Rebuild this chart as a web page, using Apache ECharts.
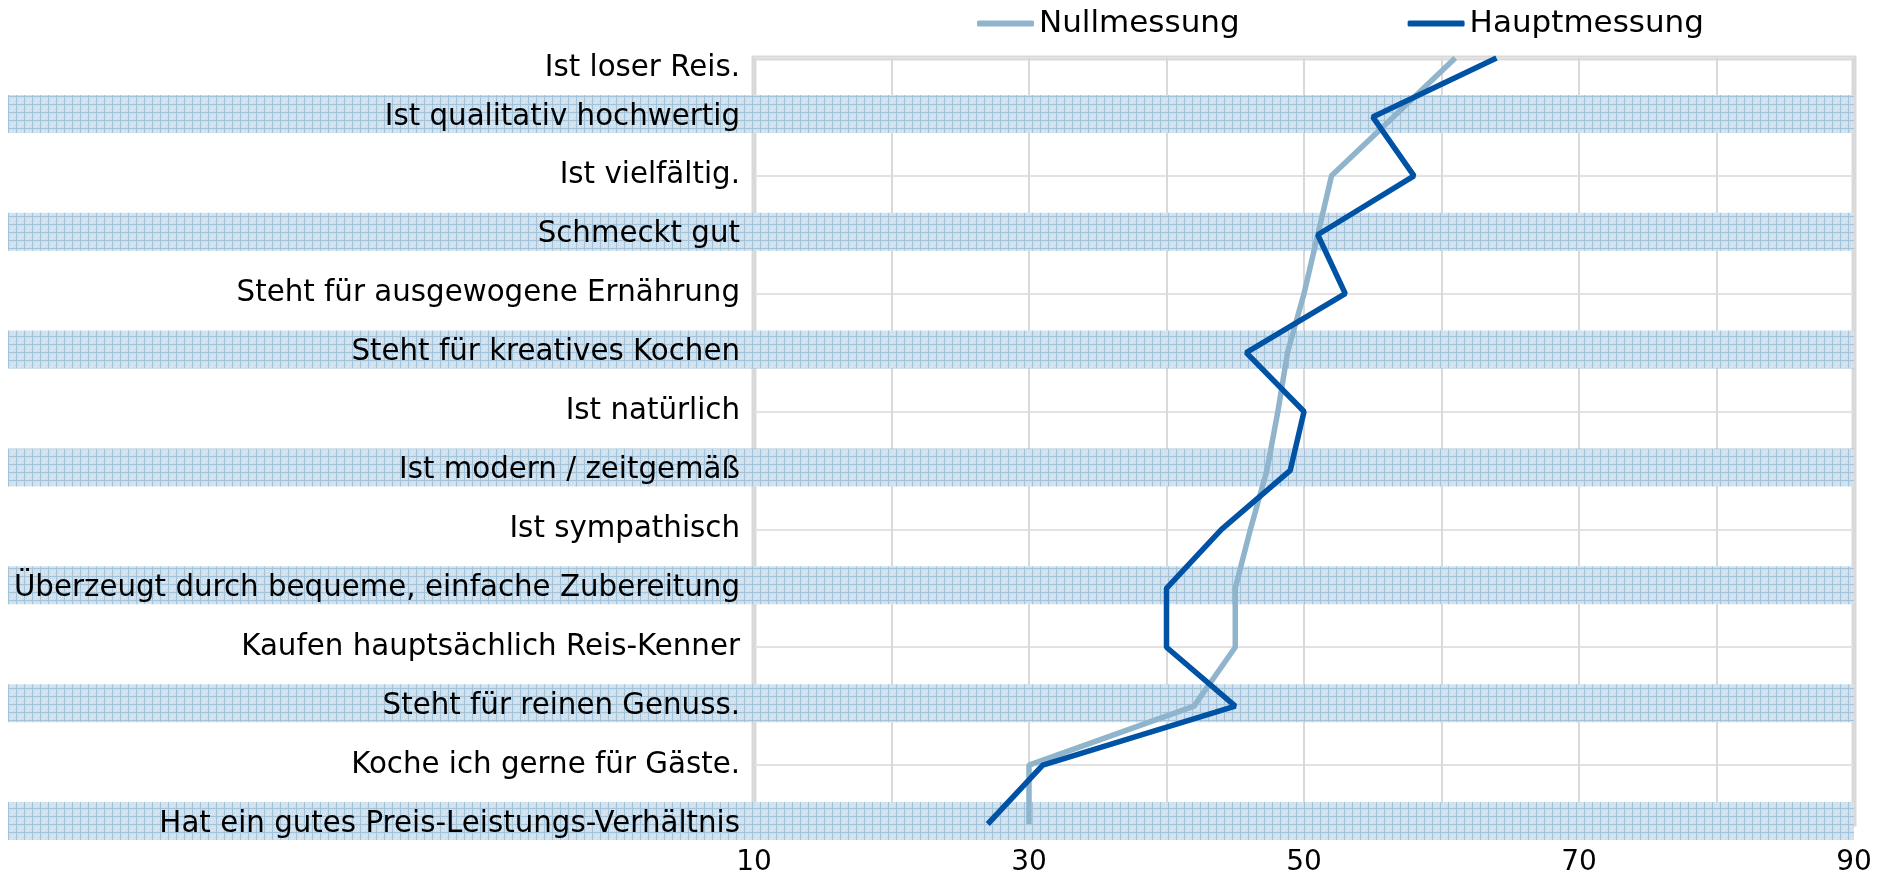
<!DOCTYPE html>
<html>
<head>
<meta charset="utf-8">
<script src="https://cdn.jsdelivr.net/npm/echarts@6/dist/echarts.min.js"></script>
<style>
  html, body { margin: 0; padding: 0; background: #fff; }
  #chart { width: 1881px; height: 873px; }
</style>
</head>
<body>
<div id="chart"></div>
<script>
const categories = [
  'Ist loser Reis.',
  'Ist qualitativ hochwertig',
  'Ist vielfältig.',
  'Schmeckt gut',
  'Steht für ausgewogene Ernährung',
  'Steht für kreatives Kochen',
  'Ist natürlich',
  'Ist modern / zeitgemäß',
  'Ist sympathisch',
  'Überzeugt durch bequeme, einfache Zubereitung',
  'Kaufen hauptsächlich Reis-Kenner',
  'Steht für reinen Genuss.',
  'Koche ich gerne für Gäste.',
  'Hat ein gutes Preis-Leistungs-Verhältnis'
]
const nullmessung = [61, 56.5, 52, 51, 50, 48.8, 48.1, 47.3, 46.1, 45, 45, 42, 30, 30]
const hauptmessung = [64, 55, 58, 51, 53, 45.8, 50, 49, 44, 40, 40, 45, 31, 27]
// every second row gets a hatched band
const bandRows = [1, 3, 5, 7, 9, 11, 13]

const FONT = 'DejaVu Sans'
const LABEL_SIZE = 29.3

function makePattern() {
  const c = document.createElement('canvas')
  c.width = 8
  c.height = 8
  const ctx = c.getContext('2d')
  ctx.fillStyle = '#cfe0ec'
  ctx.fillRect(0, 0, 8, 8)
  ctx.fillStyle = '#a2c3d9'
  ctx.fillRect(0, 0, 8, 1)
  ctx.fillRect(0, 0, 1, 8)
  ctx.fillStyle = '#e9f1f7'
  ctx.fillRect(3, 3, 1, 1)
  ctx.fillRect(5, 5, 1, 1)
  ctx.fillRect(3, 6, 1, 1)
  ctx.fillRect(6, 3, 1, 1)
  return c
}

const chart = echarts.init(document.getElementById('chart'))
const pattern = makePattern()

const option = {
  animation: false,
  textStyle: { fontFamily: FONT },
  legend: {
    left: 972,
    top: 3,
    itemGap: 168,
    itemWidth: 57,
    itemHeight: 6,
    icon: 'roundRect',
    textStyle: { fontFamily: FONT, fontSize: 31, color: '#000' },
    data: ['Nullmessung', 'Hauptmessung']
  },
  grid: {
    left: 754,
    right: 27,
    top: 58,
    bottom: 49,
    show: true,
    borderColor: '#d9d9d9',
    borderWidth: 5,
    outerBoundsMode: 'none'
  },
  xAxis: {
    type: 'value',
    min: 10,
    max: 90,
    interval: 10,
    z: 0,
    axisLine: { show: false },
    axisTick: { show: false },
    splitLine: { show: true, lineStyle: { color: '#d9d9d9', width: 2 } },
    axisLabel: {
      margin: 25,
      fontFamily: FONT,
      fontSize: 28,
      color: '#000',
      formatter: (v) => ((v - 10) % 20 === 0 ? String(v) : '')
    }
  },
  yAxis: [
    {
      type: 'category',
      data: categories,
      inverse: true,
      boundaryGap: false,
      z: 4,
      axisLine: { show: false },
      axisTick: { show: false },
      splitLine: { show: false },
      axisLabel: {
        margin: 14,
        fontFamily: FONT,
        fontSize: LABEL_SIZE,
        color: '#000',
        // top label sits a little below the frame
        formatter: (v, i) => (i === 0 ? '{first|' + v + '}' : v),
        rich: {
          first: { fontFamily: FONT, fontSize: LABEL_SIZE, color: '#000', padding: [20, 0, 0, 0] }
        }
      }
    },
    {
      type: 'category',
      data: categories,
      inverse: true,
      boundaryGap: false,
      position: 'left',
      z: 0,
      axisLine: { show: false },
      axisTick: { show: false },
      axisLabel: { show: false },
      splitLine: {
        show: true,
        interval: (idx) => idx % 2 === 0,
        lineStyle: { color: '#e2e2e2', width: 2 }
      }
    }
  ],
  series: [
    {
      type: 'custom',
      name: 'bands',
      z: 1,
      clip: false,
      silent: true,
      data: bandRows.map((r) => [10, r]),
      renderItem: (params, api) => {
        const p = api.coord([api.value(0), api.value(1)])
        const right = api.coord([90, api.value(1)])[0]
        return {
          type: 'rect',
          shape: { x: 8, y: p[1] - 22, width: right - 8, height: 38 },
          style: { fill: { image: pattern, repeat: 'repeat' } }
        }
      }
    },
    {
      type: 'line',
      name: 'Nullmessung',
      z: 3,
      showSymbol: false,
      color: '#8fb4cb',
      lineStyle: { color: '#8fb4cb', width: 5.5 },
      data: nullmessung.map((v, i) => [v, categories[i]])
    },
    {
      type: 'line',
      name: 'Hauptmessung',
      z: 3,
      showSymbol: false,
      color: '#0052a5',
      lineStyle: { color: '#0052a5', width: 5.5 },
      data: hauptmessung.map((v, i) => [v, categories[i]])
    }
  ]
}

chart.setOption(option)
</script>
</body>
</html>
